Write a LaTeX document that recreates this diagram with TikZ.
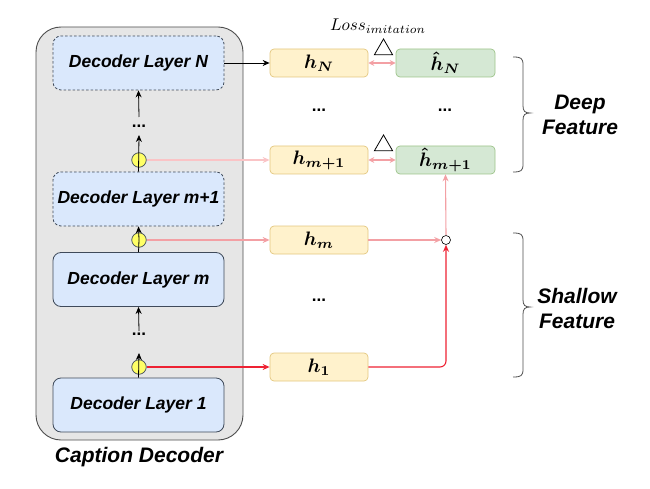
\documentclass[tikz,border=0pt]{standalone}
\usepackage{graphicx}
\usepackage{amsmath}
\usepackage{fontspec}
\newfontfamily\lab{Liberation Sans}
\usetikzlibrary{arrows.meta,shapes.geometric}
\definecolor{contfill}{HTML}{E6E6E6}
\definecolor{contdraw}{HTML}{4D4D4D}
\definecolor{layfill}{HTML}{DAE8FC}
\definecolor{laydraw}{HTML}{3F4A5A}
\definecolor{hfill}{HTML}{FFF2CC}
\definecolor{hdraw}{HTML}{E3C77F}
\definecolor{gfill}{HTML}{D5E8D4}
\definecolor{gdraw}{HTML}{9DC48A}
\definecolor{yel}{HTML}{FFFF66}
\definecolor{redA}{HTML}{EE2233}
\definecolor{redB}{HTML}{F3A0A4}
\definecolor{redC}{HTML}{FAC4C6}
\newcommand{\hlab}[1]{\scalebox{1.95}{$\boldsymbol{#1}$}}
\tikzset{
  layer/.style={draw=laydraw, fill=layfill, rounded corners=8pt, minimum width=171pt, minimum height=54pt, line width=0.8pt, font=\lab\fontsize{17.5}{20}\selectfont\bfseries\itshape},
  dlayer/.style={layer, dash pattern=on 2.5pt off 2pt},
  hbox/.style={draw=hdraw, fill=hfill, rounded corners=4pt, minimum width=98pt, minimum height=28pt, line width=0.7pt, inner sep=0pt},
  gbox/.style={draw=gdraw, fill=gfill, rounded corners=4pt, minimum width=99pt, minimum height=28pt, line width=0.7pt, inner sep=0pt},
  ycirc/.style={circle, draw=laydraw, fill=yel, minimum size=14.5pt, inner sep=0pt, line width=0.7pt},
  scirc/.style={circle, draw=black, fill=white, minimum size=9pt, inner sep=0pt, line width=0.6pt},
  tri/.style={regular polygon, regular polygon sides=3, draw=black, minimum size=21pt, inner sep=0pt, line width=0.8pt},
  dots/.style={font=\lab\fontsize{17}{20}\selectfont\bfseries},
  bigtxt/.style={font=\lab\fontsize{21}{25}\selectfont\bfseries\itshape, align=center},
  arr/.style={-{Stealth[length=7pt,width=6pt]}, line width=0.8pt},
  rarr/.style={-{Stealth[length=7pt,width=6pt]}, line width=1.1pt},
  darr/.style={{Stealth[length=6pt,width=6pt]}-{Stealth[length=6pt,width=6pt]}, line width=1.1pt, color=redB},
}
\begin{document}
\begin{tikzpicture}[x=1pt,y=-1pt]
\useasboundingbox (0,0) rectangle (650,489);
% container
\node[draw=contdraw, fill=contfill, rounded corners=25pt, minimum width=207pt, minimum height=413pt, line width=0.9pt] (cont) at (139.5,233.5) {};
\node[bigtxt] (cap) at (139,457) {Caption Decoder};
% layers
\node[dlayer] (LN) at (138.5,63) {Decoder Layer N};
\node[dlayer] (Lm1) at (138.5,199) {Decoder Layer m+1};
\node[layer] (Lm) at (138.5,279.5) {Decoder Layer m};
\node[layer] (L1) at (138.5,405) {Decoder Layer 1};
% yellow circles
\node[ycirc] (c3) at (139,160) {};
\node[ycirc] (c2) at (139,240) {};
\node[ycirc] (c1) at (139,367) {};
% dots
\node[dots] (d1) at (139,126) {...};
\node[dots] (d2) at (139,334) {...};
\coordinate (d1b) at (139,135);
\coordinate (d1t) at (139,117);
\coordinate (d2b) at (139,353);
\coordinate (d2t) at (139,331);
% vertical arrows
\draw[arr] (L1.north) -- (d2b);
\draw[arr] (d2t) -- (Lm.south);
\draw[line width=0.8pt] (Lm.north) -- (c2.center);
\draw[arr] (c2.center) -- (Lm1.south);
\draw[arr] (Lm1.north) -- (d1b);
\draw[arr] (d1t) -- (LN.south);
% h boxes
\node[hbox] (hN) at (319,63) {\hlab{h_N}};
\node[hbox] (hm1) at (319,160) {\hlab{h_{m+1}}};
\node[hbox] (hm) at (319,240) {\hlab{h_m}};
\node[hbox] (h1) at (319,367) {\hlab{h_1}};
\node[gbox] (gN) at (445.5,63) {\hlab{\hat{h}_N}};
\node[gbox] (gm1) at (445.5,160) {\hlab{\hat{h}_{m+1}}};
\node[dots] (d3) at (319,110) {...};
\node[dots] (d4) at (445,110) {...};
\node[dots] (d5) at (319,300) {...};
% small circle
\node[scirc] (sc) at (446,240) {};
% triangles and loss
\node[tri] (t1) at (383.5,49.5) {};
\node[tri] (t2) at (383.5,145.5) {};
\node[inner sep=0pt] (loss) at (378,26) {\scalebox{1.7}{$Loss_{imitation}$}};
% connectors
\draw[arr] (LN.east) -- (hN.west);
\draw[rarr, color=redC] (c3.east) -- (hm1.west);
\draw[rarr, color=redB] (c2.east) -- (hm.west);
\draw[rarr, color=redA] (c1.east) -- (h1.west);
\draw[rarr, color=redB] (hm.east) -- (sc.west);
\draw[rarr, color=redB] (sc.north) -- (gm1.south);
\draw[rarr, color=redA, rounded corners=6pt] (h1.east) -| (sc.south);
\draw[darr] (hN.east) -- (gN.west);
\draw[darr] (hm1.east) -- (gm1.west);
% braces
\draw[line width=0.8pt, draw=contdraw] (513,57) .. controls (521,57) and (523,58) .. (523,65) -- (523,106) .. controls (523,111) and (525,113) .. (530,113) .. controls (525,113) and (523,115) .. (523,120) -- (523,164) .. controls (523,171) and (521,172) .. (513,172);
\draw[line width=0.8pt, draw=contdraw] (513,233) .. controls (521,233) and (523,234) .. (523,241) -- (523,300) .. controls (523,305) and (525,307) .. (530,307) .. controls (525,307) and (523,309) .. (523,314) -- (523,369) .. controls (523,376) and (521,377) .. (513,377);
\node[bigtxt] (deep) at (580,115) {Deep\\Feature};
\node[bigtxt] (shallow) at (577,308) {Shallow\\Feature};
\end{tikzpicture}
\end{document}
